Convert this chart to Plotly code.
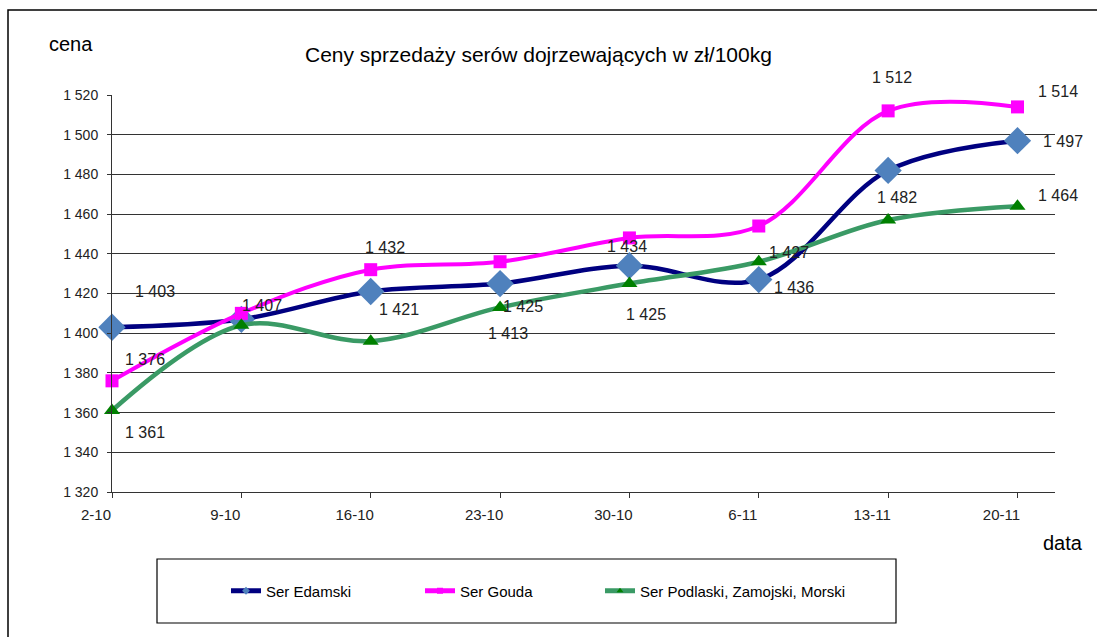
import plotly.graph_objects as go

# ---- data ----
dates = ["2-10", "9-10", "16-10", "23-10", "30-10", "6-11", "13-11", "20-11"]
edamski = [1403, 1407, 1421, 1425, 1434, 1427, 1482, 1497]
gouda = [1376, 1410, 1432, 1436, 1448, 1454, 1512, 1514]
podlaski = [1361, 1404, 1396, 1413, 1425, 1436, 1457, 1464]
series_names = ["Ser Edamski", "Ser Gouda", "Ser Podlaski, Zamojski, Morski"]
y_tick_values = [1320, 1340, 1360, 1380, 1400, 1420, 1440, 1460, 1480, 1500, 1520]

# ---- styling / label placement (pixel offsets from the point) ----
W, H = 1097, 637
L, R, T, B = 112, 42, 95, 145
PW, PH = W - L - R, H - T - B

def px_x(p):
    return (p - L) / PW

def px_y(q):
    return (H - B - q) / PH

line_styles = [
    dict(color="#000080", width=4.5, shape="spline", smoothing=1.0),
    dict(color="#FF00FF", width=4, shape="spline", smoothing=1.0),
    dict(color="#3A9A65", width=4.5, shape="spline", smoothing=1.0),
]
marker_styles = [
    dict(symbol="diamond", size=21, color="#4F81BD"),
    dict(symbol="square", size=13, color="#FF00FF"),
    dict(symbol="triangle-up", size=14, color="#008000"),
]
legend_marker_styles = [
    dict(symbol="diamond", size=6, color="#4F81BD"),
    dict(symbol="square", size=6, color="#FF00FF"),
    dict(symbol="triangle-up", size=6, color="#008000"),
]

# (series index, point index) -> (dx, dy) in screen pixels (dy down)
label_offsets = {
    (0, 0): (43, -36), (0, 1): (21, -14), (0, 2): (28, 18), (0, 3): (23, 23),
    (0, 4): (-2, -19), (0, 5): (30, -27), (0, 6): (9, 27), (0, 7): (46, 1),
    (1, 0): (33, -21), (1, 2): (14, -22), (1, 6): (4, -33), (1, 7): (41, -15),
    (2, 0): (33, 22), (2, 3): (8, 26), (2, 4): (17, 31), (2, 5): (35, 26),
    (2, 7): (41, -11),
}

def fmt(v):
    return f"{v:,}".replace(",", " ")

font_family = "Liberation Sans, Arial, sans-serif"

fig = go.Figure()
all_series = [edamski, gouda, podlaski]
legend_ids = ["legend", "legend2", "legend3"]
for i, (vals, name) in enumerate(zip(all_series, series_names)):
    fig.add_trace(go.Scatter(
        x=dates, y=vals, name=name, mode="lines+markers",
        line=line_styles[i], marker=marker_styles[i],
        cliponaxis=False, showlegend=False, hoverinfo="skip",
    ))
# legend entries (small markers as in the original legend)
for i, name in enumerate(series_names):
    fig.add_trace(go.Scatter(
        x=[None], y=[None], name=name, mode="lines+markers",
        line=dict(color=line_styles[i]["color"], width=5),
        marker=legend_marker_styles[i], legend=legend_ids[i], showlegend=True,
    ))

annotations = []
for (si, pi), (dx, dy) in label_offsets.items():
    v = all_series[si][pi]
    annotations.append(dict(
        x=dates[pi], y=v, xref="x", yref="y", text=fmt(v), showarrow=False,
        xshift=dx, yshift=-dy, font=dict(size=16, color="#222222", family=font_family),
        xanchor="center", yanchor="middle",
    ))

annotations += [
    dict(text="cena", x=px_x(71), y=px_y(44), xref="paper", yref="paper", showarrow=False,
         xanchor="center", yanchor="middle", font=dict(size=20, color="#000", family=font_family)),
    dict(text="data", x=px_x(1063), y=px_y(543), xref="paper", yref="paper", showarrow=False,
         xanchor="center", yanchor="middle", font=dict(size=20, color="#000", family=font_family)),
    dict(text="Ceny sprzedaży serów dojrzewających w zł/100kg", x=px_x(538), y=px_y(55),
         xref="paper", yref="paper", showarrow=False, xanchor="center", yanchor="middle",
         font=dict(size=21, color="#000", family=font_family)),
]

shapes = [
    dict(type="rect", xref="paper", yref="paper", x0=px_x(8), x1=px_x(1110),
         y0=px_y(660), y1=px_y(10), line=dict(color="#000", width=1.5), layer="below"),
    dict(type="rect", xref="paper", yref="paper", x0=px_x(157), x1=px_x(896),
         y0=px_y(623), y1=px_y(559), line=dict(color="#000", width=1.2), layer="below"),
]

legend_x = [226, 420, 600]
legend_common = dict(orientation="h", yanchor="middle", xanchor="left",
                     bgcolor="rgba(0,0,0,0)", borderwidth=0,
                     font=dict(size=15, color="#000", family=font_family))
layout_legends = {}
for lid, lx in zip(legend_ids, legend_x):
    layout_legends[lid] = dict(x=px_x(lx), y=px_y(591), **legend_common)

fig.update_layout(
    width=W, height=H,
    margin=dict(l=L, r=R, t=T, b=B),
    paper_bgcolor="white", plot_bgcolor="white",
    separators=", ",
    showlegend=True,
    annotations=annotations, shapes=shapes,
    font=dict(family=font_family, color="#222"),
    **layout_legends,
)
fig.update_xaxes(
    type="category", range=[0, 7.29], showgrid=False, showline=True,
    linecolor="#333", linewidth=1, ticks="outside", ticklen=5, tickcolor="#333",
    tickfont=dict(size=15, color="#222", family=font_family), zeroline=False,
    ticklabelshift=-16, ticklabelstandoff=4,
)
fig.update_yaxes(
    range=[1320, 1520], tickvals=y_tick_values, tickformat=",d",
    showgrid=True, gridcolor="#333", gridwidth=1, showline=True, linecolor="#333",
    linewidth=1, ticks="outside", ticklen=4, tickcolor="#333", zeroline=False,
    tickfont=dict(size=14, color="#222", family=font_family), ticklabelstandoff=6,
)

fig.write_html("out.html", config={"displayModeBar": False},
               post_script="document.body.style.margin='0px';")
